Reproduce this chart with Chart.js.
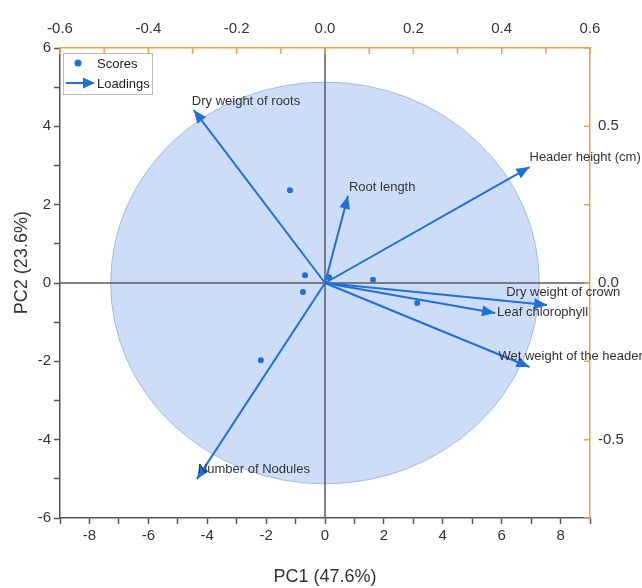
<!DOCTYPE html>
<html>
<head>
<meta charset="utf-8">
<script src="https://cdn.jsdelivr.net/npm/chart.js@4.4.1/dist/chart.umd.min.js"></script>
<style>
  html, body { margin: 0; padding: 0; background: #fff; }
</style>
</head>
<body>
<canvas id="biplot" width="642" height="588"></canvas>
<script>
// scores (PC1, PC2) - bottom / left axes
const scoreX = [-1.19, -0.68, -0.75, 0.14, 1.63, 3.13, -2.18];
const scoreY = [2.37, 0.20, -0.23, 0.15, 0.08, -0.51, -1.97];

// loadings - top / right axes
const varNames = ['Dry weight of roots', 'Root length', 'Header height (cm)', 'Dry weight of crown',
                  'Leaf chlorophyll', 'Wet weight of the header', 'Number of Nodules'];
const loadX = [-0.297, 0.052, 0.463, 0.503, 0.385, 0.463, -0.290];
const loadY = [0.552, 0.278, 0.370, -0.070, -0.096, -0.268, -0.626];

// confidence ellipse of the scores (centre, radii in PC units)
const ellipseCenter = [0, 0];
const ellipseRadii = [7.28, 5.13];

// labelled ticks
const xTickLabels = [-8, -6, -4, -2, 0, 2, 4, 6, 8];
const yTickLabels = [-6, -4, -2, 0, 2, 4, 6];
const x2TickLabels = [-0.6, -0.4, -0.2, 0.0, 0.2, 0.4, 0.6];
const y2TickLabels = [-0.5, 0.0, 0.5];

const blue = '#1f6fdc';
const orange = '#f5a04c';
const axisGrey = '#555';
const fontFam = '"Liberation Sans", Arial, sans-serif';

// text offsets of the loading labels from the arrow tips (px)
const labelShift = [[-2, -9], [1, -8], [0, -10], [-41, -13], [2, -1], [-31, -11], [1, -10]];

const near = (v, list) => list.some(t => Math.abs(t - v) < 1e-6);

function drawHead(ctx, x0, y0, x1, y1, len, half) {
    const ang = Math.atan2(y1 - y0, x1 - x0);
    ctx.beginPath();
    ctx.moveTo(x1, y1);
    ctx.lineTo(x1 - len * Math.cos(ang) + half * Math.sin(ang), y1 - len * Math.sin(ang) - half * Math.cos(ang));
    ctx.lineTo(x1 - len * Math.cos(ang) - half * Math.sin(ang), y1 - len * Math.sin(ang) + half * Math.cos(ang));
    ctx.closePath();
    ctx.fill();
}

const biplotDecor = {
    id: 'biplotDecor',
    beforeDatasetsDraw(chart) {
        const { ctx, chartArea: a, scales: { x, y } } = chart;
        ctx.save();
        // ellipse
        const cx = x.getPixelForValue(ellipseCenter[0]);
        const cy = y.getPixelForValue(ellipseCenter[1]);
        const rx = x.getPixelForValue(ellipseCenter[0] + ellipseRadii[0]) - cx;
        const ry = cy - y.getPixelForValue(ellipseCenter[1] + ellipseRadii[1]);
        ctx.beginPath();
        ctx.ellipse(cx, cy, rx, ry, 0, 0, Math.PI * 2);
        ctx.fillStyle = 'rgba(120,160,232,0.36)';
        ctx.fill();
        ctx.strokeStyle = 'rgba(90,130,210,0.45)';
        ctx.lineWidth = 1;
        ctx.stroke();
        // zero lines
        const x0 = x.getPixelForValue(0), y0 = y.getPixelForValue(0);
        ctx.strokeStyle = '#5c5c5c';
        ctx.lineWidth = 1.5;
        ctx.beginPath();
        ctx.moveTo(x0, a.top);
        ctx.lineTo(x0, a.bottom);
        ctx.moveTo(a.left, y0);
        ctx.lineTo(a.right, y0);
        ctx.stroke();
        ctx.restore();
    },
    afterDatasetsDraw(chart) {
        const { ctx, chartArea: a, scales: { x2, y2 } } = chart;
        ctx.save();
        // arrow heads + labels
        const ox = x2.getPixelForValue(0), oy = y2.getPixelForValue(0);
        varNames.forEach((name, i) => {
            const tx = x2.getPixelForValue(loadX[i]);
            const ty = y2.getPixelForValue(loadY[i]);
            ctx.fillStyle = blue;
            drawHead(ctx, ox, oy, tx, ty, 13, 5.5);
            ctx.fillStyle = '#333';
            ctx.font = '13px ' + fontFam;
            ctx.textAlign = 'left';
            ctx.textBaseline = 'middle';
            ctx.fillText(name, tx + labelShift[i][0], ty + labelShift[i][1]);
        });
        // legend
        const lx = a.left + 3, ly = a.top + 5;
        ctx.fillStyle = '#fff';
        ctx.fillRect(lx, ly, 89, 41);
        ctx.strokeStyle = '#bbb';
        ctx.lineWidth = 1;
        ctx.strokeRect(lx + 0.5, ly + 0.5, 89, 41);
        ctx.fillStyle = blue;
        ctx.beginPath();
        ctx.arc(lx + 15, ly + 10, 3.5, 0, Math.PI * 2);
        ctx.fill();
        ctx.strokeStyle = blue;
        ctx.lineWidth = 2;
        ctx.beginPath();
        ctx.moveTo(lx + 3, ly + 30);
        ctx.lineTo(lx + 22, ly + 30);
        ctx.stroke();
        drawHead(ctx, lx + 3, ly + 30, lx + 32, ly + 30, 12, 5.5);
        ctx.fillStyle = '#222';
        ctx.font = '13px ' + fontFam;
        ctx.textBaseline = 'middle';
        ctx.fillText('Scores', lx + 34, ly + 11);
        ctx.fillText('Loadings', lx + 34, ly + 31);
        // left axis title, sits a little above the middle
        ctx.save();
        ctx.translate(22, y2.getPixelForValue(0.065));
        ctx.rotate(-Math.PI / 2);
        ctx.font = '18px ' + fontFam;
        ctx.fillStyle = '#333';
        ctx.textAlign = 'center';
        ctx.fillText('PC2 (23.6%)', 0, 0);
        ctx.restore();
        ctx.restore();
    },
    afterDraw(chart) {
        // inward ticks on the orange axes
        const { ctx, chartArea: a, scales: { x2, y2 } } = chart;
        ctx.save();
        ctx.strokeStyle = orange;
        ctx.lineWidth = 1.5;
        ctx.beginPath();
        x2.ticks.forEach(t => {
            const px = x2.getPixelForValue(t.value);
            ctx.moveTo(px, a.top);
            ctx.lineTo(px, a.top + 6);
        });
        y2.ticks.forEach(t => {
            const py = y2.getPixelForValue(t.value);
            ctx.moveTo(a.right, py);
            ctx.lineTo(a.right - 6, py);
        });
        ctx.stroke();
        ctx.restore();
    }
};

const tickFont = { family: fontFam, size: 15 };
const titleFont = { family: fontFam, size: 18 };

new Chart(document.getElementById('biplot'), {
    type: 'scatter',
    data: {
        datasets: [
            {
                label: 'Scores',
                data: scoreX.map((v, i) => ({ x: v, y: scoreY[i] })),
                xAxisID: 'x',
                yAxisID: 'y',
                pointRadius: 3,
                pointBackgroundColor: blue,
                pointBorderWidth: 0
            },
            ...varNames.map((name, i) => ({
                label: name,
                data: [{ x: 0, y: 0 }, { x: loadX[i], y: loadY[i] }],
                xAxisID: 'x2',
                yAxisID: 'y2',
                showLine: true,
                borderColor: blue,
                borderWidth: 2,
                pointRadius: 0
            }))
        ]
    },
    options: {
        responsive: false,
        animation: false,
        layout: { padding: 0 },
        plugins: { legend: { display: false }, tooltip: { enabled: false } },
        scales: {
            x: {
                position: 'bottom',
                min: -9, max: 9,
                afterFit(s) { s.height = 70; },
                ticks: {
                    stepSize: 1, autoSkip: false, maxRotation: 0, color: '#333', font: tickFont, padding: 3,
                    callback: v => near(v, xTickLabels) ? String(v) : ''
                },
                grid: { drawOnChartArea: false, color: axisGrey, tickLength: 6, tickWidth: 1.5 },
                border: { color: axisGrey, width: 1.5 },
                title: { display: true, text: 'PC1 (47.6%)', color: '#333', font: titleFont, padding: { top: 0, bottom: 0 } }
            },
            y: {
                position: 'left',
                min: -6, max: 6,
                afterFit(s) { s.width = 60; },
                ticks: {
                    stepSize: 1, autoSkip: false, color: '#333', font: tickFont, padding: 3,
                    callback: v => near(v, yTickLabels) ? String(v) : ''
                },
                grid: { drawOnChartArea: false, color: axisGrey, tickLength: 6, tickWidth: 1.5 },
                border: { color: axisGrey, width: 1.5 }
            },
            x2: {
                position: 'top',
                min: -0.6, max: 0.6,
                afterFit(s) { s.height = 48; },
                ticks: {
                    stepSize: 0.1, autoSkip: false, maxRotation: 0, color: '#333', font: tickFont, padding: 10,
                    callback: v => near(v, x2TickLabels) ? v.toFixed(1) : ''
                },
                grid: { display: false, drawOnChartArea: false, drawTicks: false },
                border: { color: orange, width: 1.5 }
            },
            y2: {
                position: 'right',
                min: -0.75, max: 0.75,
                afterFit(s) { s.width = 52; },
                ticks: {
                    stepSize: 0.25, autoSkip: false, color: '#333', font: tickFont, padding: 8,
                    callback: v => near(v, y2TickLabels) ? v.toFixed(1) : ''
                },
                grid: { display: false, drawOnChartArea: false, drawTicks: false },
                border: { color: orange, width: 1.5 }
            }
        }
    },
    plugins: [biplotDecor]
});
</script>
</body>
</html>
